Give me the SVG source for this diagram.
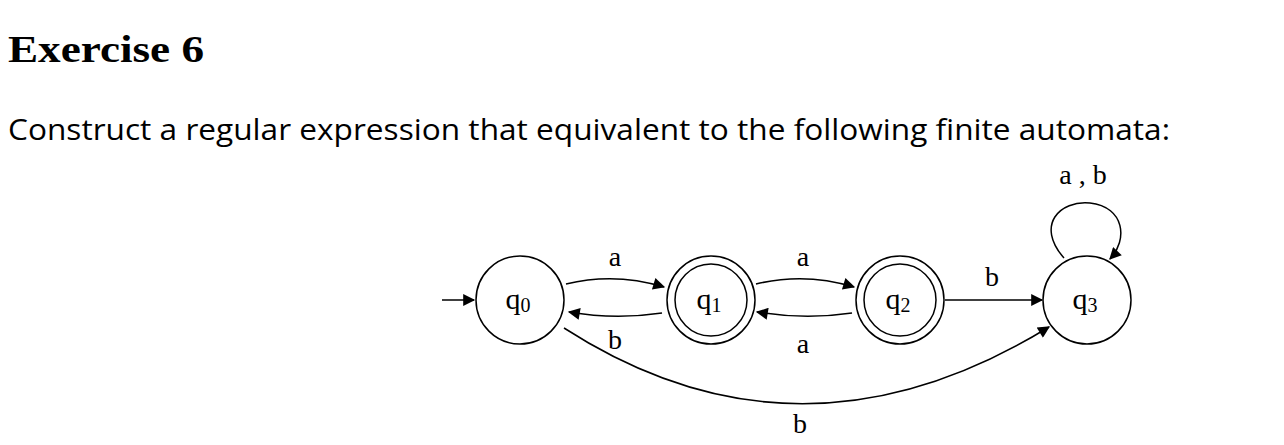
<svg xmlns="http://www.w3.org/2000/svg" width="1284" height="445" viewBox="0 0 1284 445">
<style>
.st{fill:#fff;stroke:#000;stroke-width:1.5}
.ed{fill:none;stroke:#000;stroke-width:1.5}
.lb{font-family:"Liberation Serif",serif;font-size:28px;fill:#000;text-anchor:middle}
.q{font-family:"Liberation Serif",serif;font-size:30px;fill:#000;text-anchor:middle}
.sub{font-size:20px}
</style>
<defs><marker id="ah" viewBox="0 0 10 10" refX="9" refY="5" markerWidth="14" markerHeight="12" markerUnits="userSpaceOnUse" orient="auto"><path d="M0,0L10,5L0,10z" fill="#000"/></marker></defs>
<rect width="1284" height="445" fill="#fff"/>
<text x="8" y="62" font-family="Liberation Serif,serif" font-weight="bold" font-size="38" textLength="196" lengthAdjust="spacingAndGlyphs">Exercise 6</text>
<text x="8" y="140" font-family="Open Sans,Liberation Sans,sans-serif" font-size="29" textLength="1162" lengthAdjust="spacingAndGlyphs">Construct a regular expression that equivalent to the following finite automata:</text>
<g id="connectors">
<path class="ed" d="M442,300H474" marker-end="url(#ah)"/>
<path class="ed" d="M566,284Q615,272 664,287" marker-end="url(#ah)"/>
<path class="ed" d="M662,313Q615,320 569,312" marker-end="url(#ah)"/>
<path class="ed" d="M756,284Q805,272 854,287" marker-end="url(#ah)"/>
<path class="ed" d="M852,313Q805,320 757,312" marker-end="url(#ah)"/>
<path class="ed" d="M945,300H1042" marker-end="url(#ah)"/>
<path class="ed" d="M1064,258C1035,225 1060,200 1090,203C1125,207 1128,240 1110,259" marker-end="url(#ah)"/>
<path class="ed" d="M564,328Q800,480 1049,327" marker-end="url(#ah)"/>
</g>
<g id="labels">
<text class="lb" x="615" y="266">a</text>
<text class="lb" x="615" y="349">b</text>
<text class="lb" x="803" y="266">a</text>
<text class="lb" x="803" y="353">a</text>
<text class="lb" x="992" y="286">b</text>
<text class="lb" x="1083" y="184">a , b</text>
<text class="lb" x="800" y="433">b</text>
</g>
<g id="q0"><circle class="st" cx="520" cy="300" r="44"/><text class="q" x="518" y="309">q<tspan class="sub" dy="3">0</tspan></text></g>
<g id="q1"><circle class="st" cx="711" cy="300" r="44"/><circle class="st" cx="711" cy="300" r="36"/><text class="q" x="709" y="309">q<tspan class="sub" dy="3">1</tspan></text></g>
<g id="q2"><circle class="st" cx="900" cy="300" r="44"/><circle class="st" cx="900" cy="300" r="36"/><text class="q" x="898" y="309">q<tspan class="sub" dy="3">2</tspan></text></g>
<g id="q3"><circle class="st" cx="1087" cy="300" r="44"/><text class="q" x="1085" y="309">q<tspan class="sub" dy="3">3</tspan></text></g>
</svg>
